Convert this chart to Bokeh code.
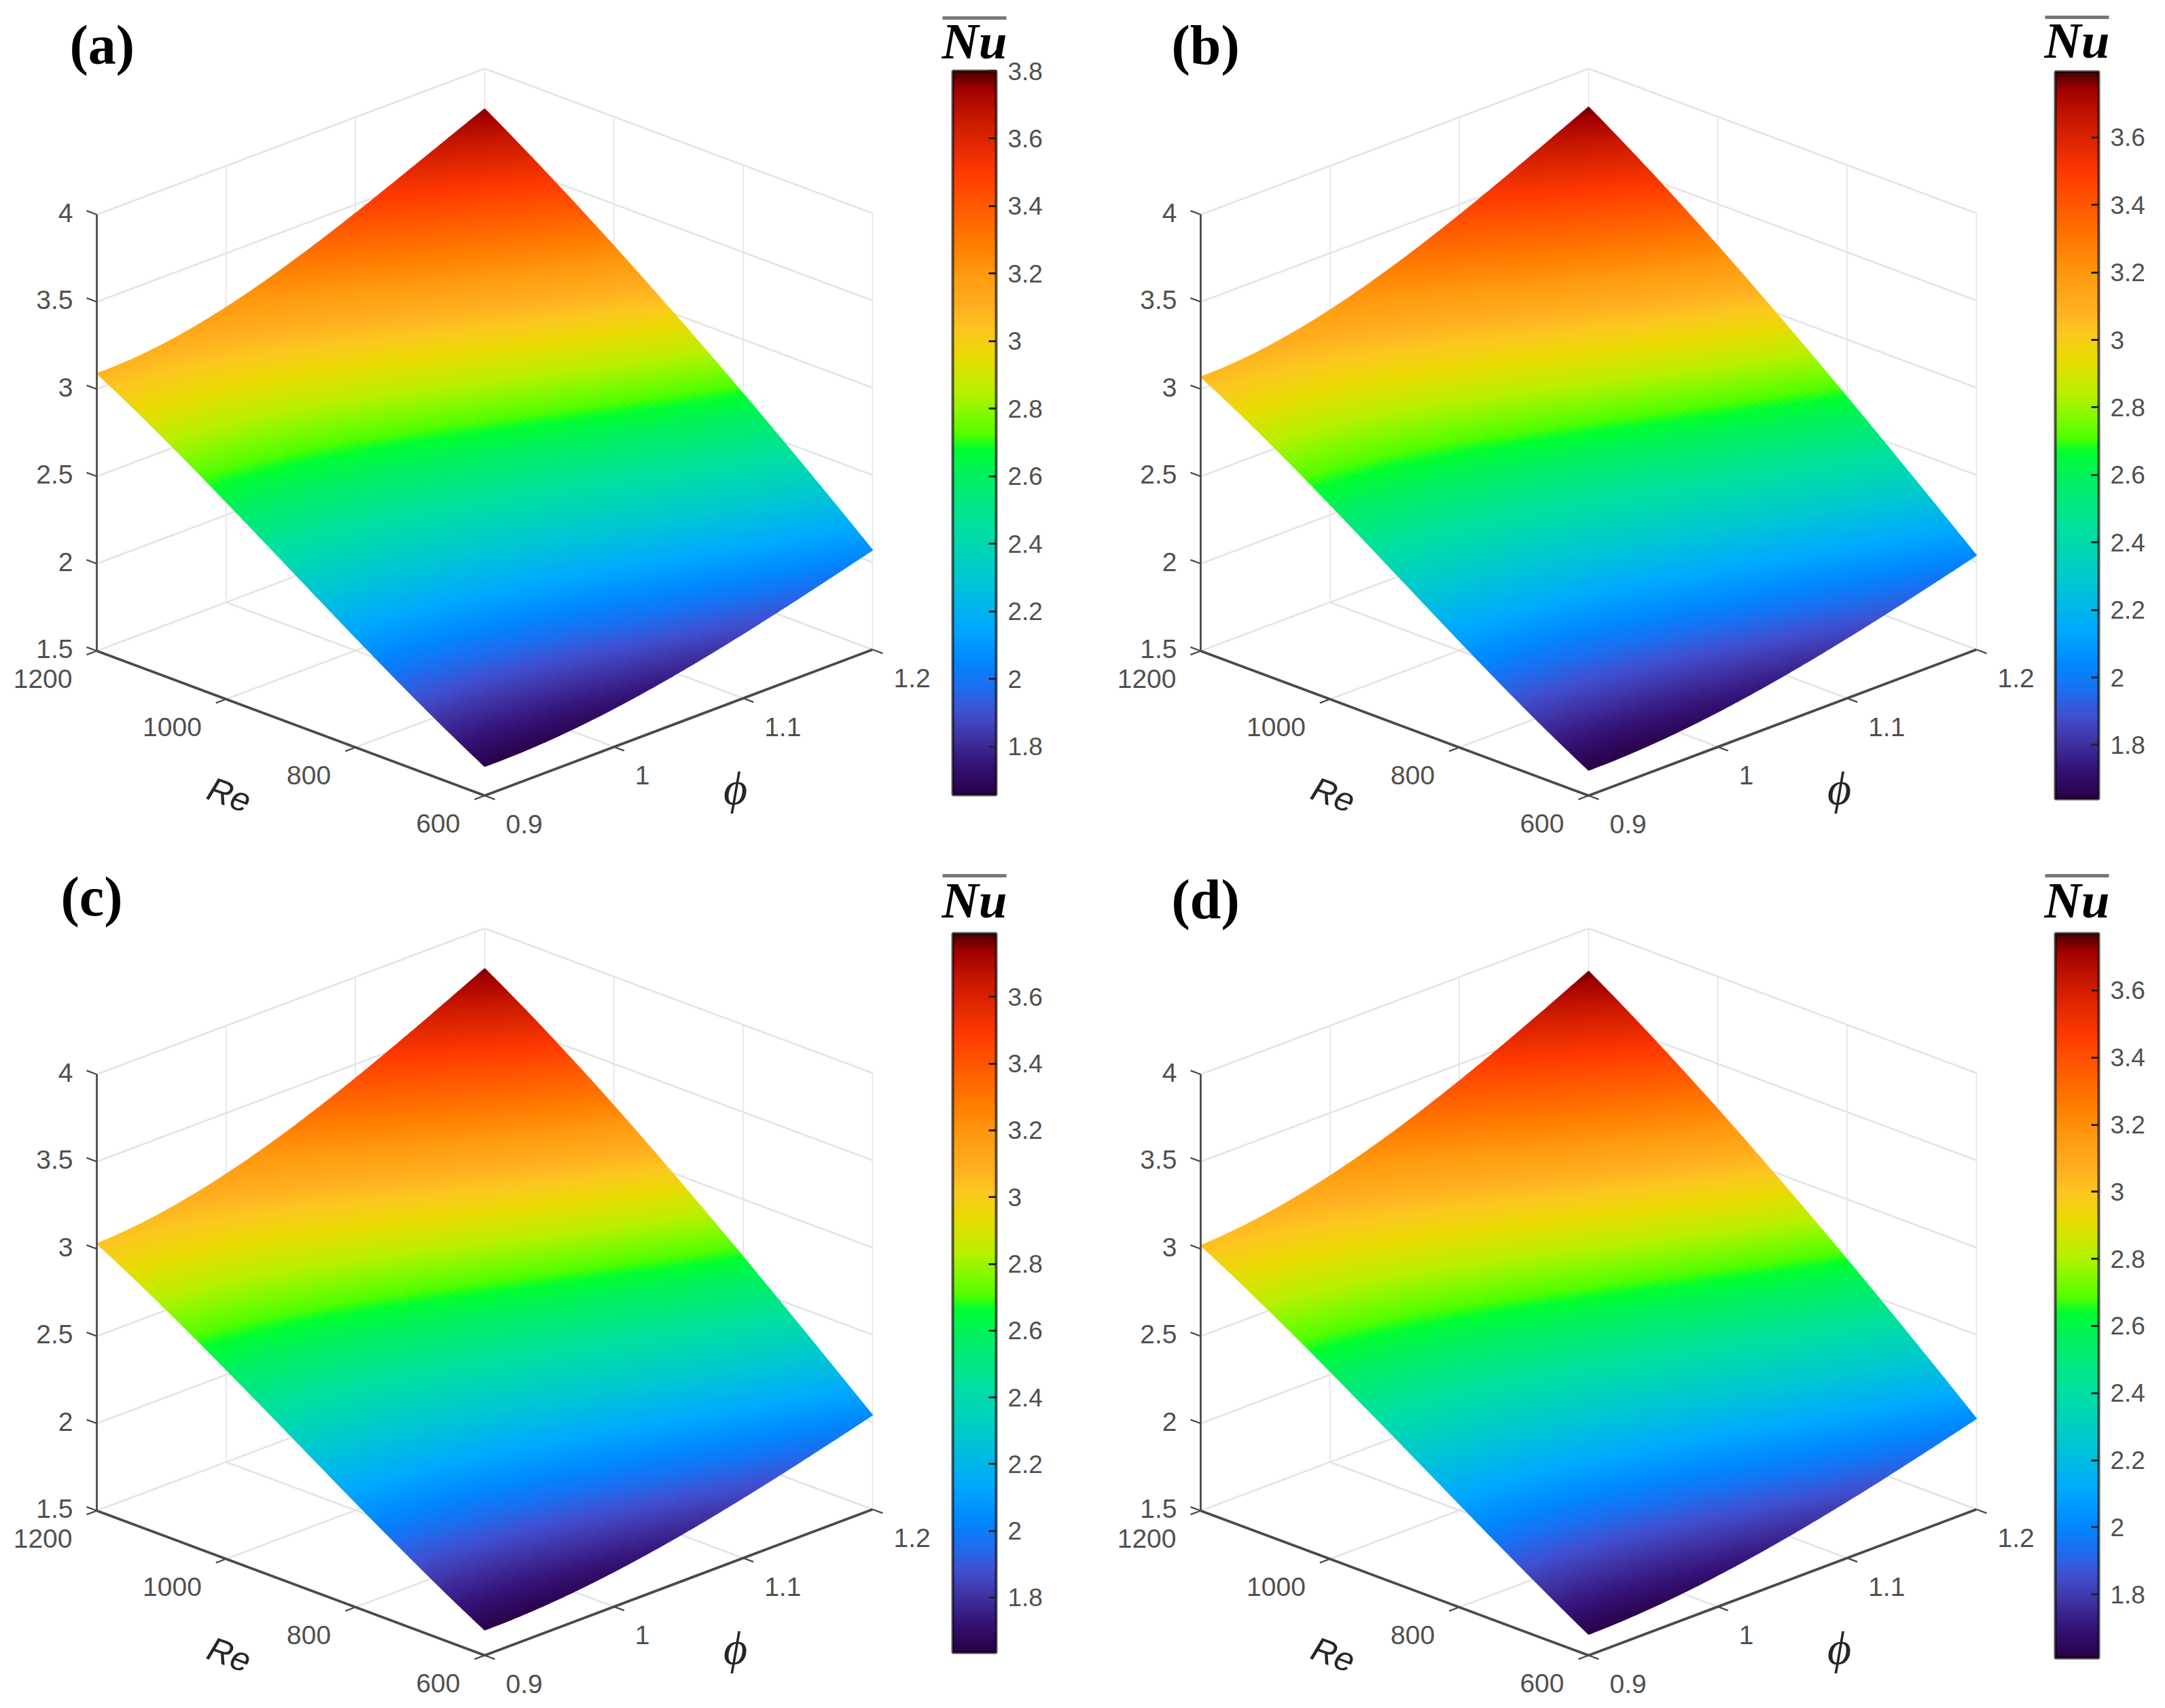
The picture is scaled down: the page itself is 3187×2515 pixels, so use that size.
import numpy as np
from bokeh.core.properties import value
from bokeh.embed import file_html
from bokeh.layouts import column, row
from bokeh.models import ColorBar, ColumnDataSource, FixedTicker, LinearColorMapper, Range1d
from bokeh.plotting import figure
from bokeh.resources import INLINE
from bokeh.transform import transform

# ---- data ----
RE = [600, 800, 1000, 1200]
PHI = [0.9, 1.0, 1.1, 1.2]
Z_TICKS = [1.5, 2, 2.5, 3, 3.5, 4]
Z_LABELS = ["1.5", "2", "2.5", "3", "3.5", "4"]
RE_LABELS = ["600", "800", "1000", "1200"]
PHI_LABELS = ["0.9", "1", "1.1", "1.2"]
CB_TICKS_A = [1.8, 2.0, 2.2, 2.4, 2.6, 2.8, 3.0, 3.2, 3.4, 3.6, 3.8]
CB_TICKS = [1.8, 2.0, 2.2, 2.4, 2.6, 2.8, 3.0, 3.2, 3.4, 3.6]

NU_A = [[1.667, 1.72, 1.87, 2.07],
        [2.13, 2.225, 2.435, 2.69],
        [2.63, 2.74, 2.98, 3.26],
        [3.09, 3.19, 3.45, 3.77]]
NU_B = [[1.645, 1.70, 1.845, 2.04],
        [2.11, 2.205, 2.41, 2.67],
        [2.615, 2.725, 2.97, 3.26],
        [3.07, 3.175, 3.44, 3.78]]
NU_C = [[1.645, 1.70, 1.845, 2.04],
        [2.10, 2.195, 2.405, 2.67],
        [2.585, 2.71, 2.96, 3.26],
        [3.03, 3.15, 3.42, 3.77]]
NU_D = [[1.62, 1.68, 1.825, 2.02],
        [2.09, 2.18, 2.39, 2.655],
        [2.575, 2.70, 2.945, 3.24],
        [3.02, 3.14, 3.405, 3.755]]

# colour ramp (a)
RAMP_NU = [1.657, 1.75, 1.82, 1.90, 1.98, 2.05, 2.15, 2.30, 2.45, 2.60, 2.68, 2.72, 2.78,
           2.85, 2.95, 3.03, 3.10, 3.20, 3.30, 3.40, 3.50, 3.65, 3.75, 3.80]
RAMP_HEX = ["#2a0045", "#35157a", "#4030a0", "#4050d0", "#1a70f0", "#0088ff", "#00a8ff",
            "#00c8d0", "#00e0a0", "#00f060", "#00ff30", "#50ff00", "#80fa00", "#b8f000",
            "#e8dc00", "#fcc820", "#ffb020", "#ff9a10", "#ff7a00", "#ff5a00", "#ff3a00",
            "#cc1a00", "#a00000", "#4a0000"]

def hex2rgb(h):
    return [int(h[i:i + 2], 16) for i in (1, 3, 5)]

_rgb = np.array([hex2rgb(h) for h in RAMP_HEX], float)
_lv = np.linspace(RAMP_NU[0], RAMP_NU[-1], 512)
PALETTE = ["#%02x%02x%02x" % tuple(int(round(np.interp(v, RAMP_NU, _rgb[:, k]))) for k in range(3))
           for v in _lv]

# ---- geometry ----
FRONT = (713, 1171)
LEFT = (142, 958)
RIGHT = (1284, 956)
ZS = 257.0
MESH = 130

PANELS = [
    dict(tag="(a)", nu=NU_A, dx=0, dy=0, low=1.657, high=3.80, ticks=CB_TICKS_A,
         cb=(1402, 104, 1170), tagpos=(102, 66), nu_xy=(1434, 60), bar_y=26,
         xr=(0, 1592), yr=(0, 1252)),
    dict(tag="(b)", nu=NU_B, dx=1625, dy=0, low=1.64, high=3.795, ticks=CB_TICKS,
         cb=(3025, 105, 1176), tagpos=(1724, 66), nu_xy=(3057, 59), bar_y=25,
         xr=(1592, 3171), yr=(0, 1252)),
    dict(tag="(c)", nu=NU_C, dx=0, dy=1266, low=1.635, high=3.79, ticks=CB_TICKS,
         cb=(1402, 1374, 2433), tagpos=(89, 1320), nu_xy=(1434, 1325), bar_y=1289,
         xr=(0, 1592), yr=(1252, 2507)),
    dict(tag="(d)", nu=NU_D, dx=1625, dy=1266, low=1.61, high=3.77, ticks=CB_TICKS,
         cb=(3025, 1374, 2441), tagpos=(1724, 1324), nu_xy=(3057, 1325), bar_y=1289,
         xr=(1592, 3171), yr=(1252, 2507)),
]

def make_proj(dx, dy):
    def proj(re, phi, z):
        a = (np.asarray(re, float) - 600.0) / 600.0
        b = (np.asarray(phi, float) - 0.9) / 0.3
        x = FRONT[0] + dx + (LEFT[0] - FRONT[0]) * a + (RIGHT[0] - FRONT[0]) * b
        y = FRONT[1] + dy + (LEFT[1] - FRONT[1]) * a + (RIGHT[1] - FRONT[1]) * b - (np.asarray(z, float) - 1.5) * ZS
        return x, y
    return proj

def basis(nodes, fine):
    nodes = np.asarray(nodes, float)
    s = (nodes - nodes[0]) / (nodes[-1] - nodes[0])
    t = (fine - nodes[0]) / (nodes[-1] - nodes[0])
    return np.vander(t, len(s)) @ np.linalg.inv(np.vander(s, len(s)))

SANS = value("Liberation Sans")
SERIF = value("Liberation Serif")
TICK_COL = "#505050"
GRID_COL = "#e4e4e4"

def build(P):
    x0, x1 = P["xr"]
    y0, y1 = P["yr"]
    p = figure(width=x1 - x0, height=y1 - y0, output_backend="svg", toolbar_location=None,
               x_range=Range1d(x0, x1), y_range=Range1d(y1, y0), min_border=0,
               background_fill_color="white", border_fill_color="white", outline_line_color=None)
    p.axis.visible = False
    p.grid.visible = False
    proj = make_proj(P["dx"], P["dy"])

    # walls and floor grid
    gx, gy = [], []
    widths = []
    for z in Z_TICKS:
        xa, ya = proj([1200, 1200, 600], [0.9, 1.2, 1.2], [z, z, z])
        gx.append(list(xa)); gy.append(list(ya)); widths.append(2.6)
    for f in PHI[1:]:
        xa, ya = proj([1200, 1200], [f, f], [1.5, 4])
        gx.append(list(xa)); gy.append(list(ya)); widths.append(1.6)
        xa, ya = proj([600, 1200], [f, f], [1.5, 1.5])
        gx.append(list(xa)); gy.append(list(ya)); widths.append(2.6)
    for r in RE[:-1]:
        xa, ya = proj([r, r], [1.2, 1.2], [1.5, 4])
        gx.append(list(xa)); gy.append(list(ya)); widths.append(1.6)
    for r in RE[1:-1]:
        xa, ya = proj([r, r], [0.9, 1.2], [1.5, 1.5])
        gx.append(list(xa)); gy.append(list(ya)); widths.append(2.6)
    p.multi_line(gx, gy, line_color=GRID_COL, line_width=widths)

    # surface
    re_f = np.linspace(RE[0], RE[-1], MESH + 1)
    ph_f = np.linspace(PHI[0], PHI[-1], MESH + 1)
    nu_f = basis(RE, re_f) @ np.array(P["nu"], float) @ basis(PHI, ph_f).T
    RR, FF = np.meshgrid(re_f, ph_f, indexing="ij")
    X, Y = proj(RR, FF, nu_f)
    xs, ys, vals = [], [], []
    for i in range(MESH - 1, -1, -1):
        for j in range(MESH - 1, -1, -1):
            xs.append([X[i, j], X[i + 1, j], X[i + 1, j + 1], X[i, j + 1]])
            ys.append([Y[i, j], Y[i + 1, j], Y[i + 1, j + 1], Y[i, j + 1]])
            vals.append((nu_f[i, j] + nu_f[i + 1, j] + nu_f[i + 1, j + 1] + nu_f[i, j + 1]) / 4)
    mapper = LinearColorMapper(palette=PALETTE, low=P["low"], high=P["high"])
    src = ColumnDataSource(dict(xs=xs, ys=ys, nu=vals))
    p.patches("xs", "ys", source=src, fill_color=transform("nu", mapper),
              line_color=transform("nu", mapper), line_width=1.2)

    # axes
    AX = "#4a4a4a"
    xa, ya = proj([1200, 1200], [0.9, 0.9], [1.5, 4])
    p.line(xa, ya, line_color=AX, line_width=2.8)
    xa, ya = proj([1200, 600, 600], [0.9, 0.9, 1.2], [1.5, 1.5, 1.5])
    p.line(xa, ya, line_color=AX, line_width=3.8, line_join="miter")

    # ticks
    t = 16.0
    L = np.array([LEFT[0] - FRONT[0], LEFT[1] - FRONT[1]], float); L /= np.hypot(*L)
    Rv = np.array([RIGHT[0] - FRONT[0], RIGHT[1] - FRONT[1]], float); Rv /= np.hypot(*Rv)
    tx, ty = [], []
    for z in Z_TICKS:
        a, b = proj(1200, 0.9, z)
        tx.append([a, a + L[0] * t]); ty.append([b, b + L[1] * t])
    for r in RE:
        a, b = proj(r, 0.9, 1.5)
        tx.append([a, a - Rv[0] * t]); ty.append([b, b - Rv[1] * t])
    for f in PHI:
        a, b = proj(600, f, 1.5)
        tx.append([a, a - L[0] * t]); ty.append([b, b - L[1] * t])
    p.multi_line(tx, ty, line_color=AX, line_width=2.4)

    # tick labels
    a, b = proj([1200] * len(Z_TICKS), [0.9] * len(Z_TICKS), Z_TICKS)
    p.text(a - 35, b - 3, text=Z_LABELS, text_font=SANS, text_font_size="39px", text_color=TICK_COL,
           text_align="right", text_baseline="middle")
    a, b = proj(RE, [0.9] * 4, [1.5] * 4)
    p.text(a - 36, b + 41, text=RE_LABELS, text_font=SANS, text_font_size="39px", text_color=TICK_COL,
           text_align="right", text_baseline="middle")
    a, b = proj([600] * 4, PHI, [1.5] * 4)
    p.text(a + 31, b + 42, text=PHI_LABELS, text_font=SANS, text_font_size="39px", text_color=TICK_COL,
           text_align="left", text_baseline="middle")

    # axis titles
    p.text([337 + P["dx"]], [1170 + P["dy"]], text=["Re"], angle=-0.35, text_font=SANS, text_font_style="italic",
           text_font_size="50px", text_color="#262626", text_align="center", text_baseline="middle")
    p.text([1082 + P["dx"]], [1160 + P["dy"]], text=["\u03d5"], text_font=SERIF, text_font_style="italic",
           text_font_size="68px", text_color="#262626", text_align="center", text_baseline="middle")

    # panel tag
    p.text([P["tagpos"][0]], [P["tagpos"][1]], text=[P["tag"]], text_font=SERIF, text_font_style="bold",
           text_font_size="82px", text_color="black", text_align="left", text_baseline="alphabetic")

    # colour bar title
    nx, ny = P["nu_xy"]
    p.text([nx], [ny], text=["Nu"], text_font=SERIF, text_font_style="bold italic", text_font_size="75px",
           text_color="black", text_align="center", text_baseline="alphabetic")
    p.line([nx - 47, nx + 47], [P["bar_y"]] * 2, line_color="#777777", line_width=5)

    # colour bar
    cx, ctop, cbot = P["cb"]
    overrides = {v: ("%g" % v) for v in P["ticks"]}
    cb = ColorBar(color_mapper=mapper, ticker=FixedTicker(ticks=P["ticks"]), major_label_overrides=overrides,
                  width=64, height=cbot - ctop, padding=0, margin=0,
                  location=(cx - x0, (y1 - y0) - (ctop - y0) - (cbot - ctop)),
                  major_label_text_font="Liberation Sans", major_label_text_font_size="37px",
                  major_label_text_color=TICK_COL, label_standoff=17,
                  major_tick_in=11, major_tick_out=0, major_tick_line_color="#222222", major_tick_line_width=3,
                  minor_tick_line_color=None, bar_line_color="#000000", bar_line_alpha=0.65, bar_line_width=4,
                  background_fill_alpha=0, border_line_color=None)
    p.add_layout(cb)
    return p

figs = [build(P) for P in PANELS]
page = column(row(figs[0], figs[1], spacing=0), row(figs[2], figs[3], spacing=0), spacing=0)
open("out.html", "w").write(file_html(page, INLINE))
